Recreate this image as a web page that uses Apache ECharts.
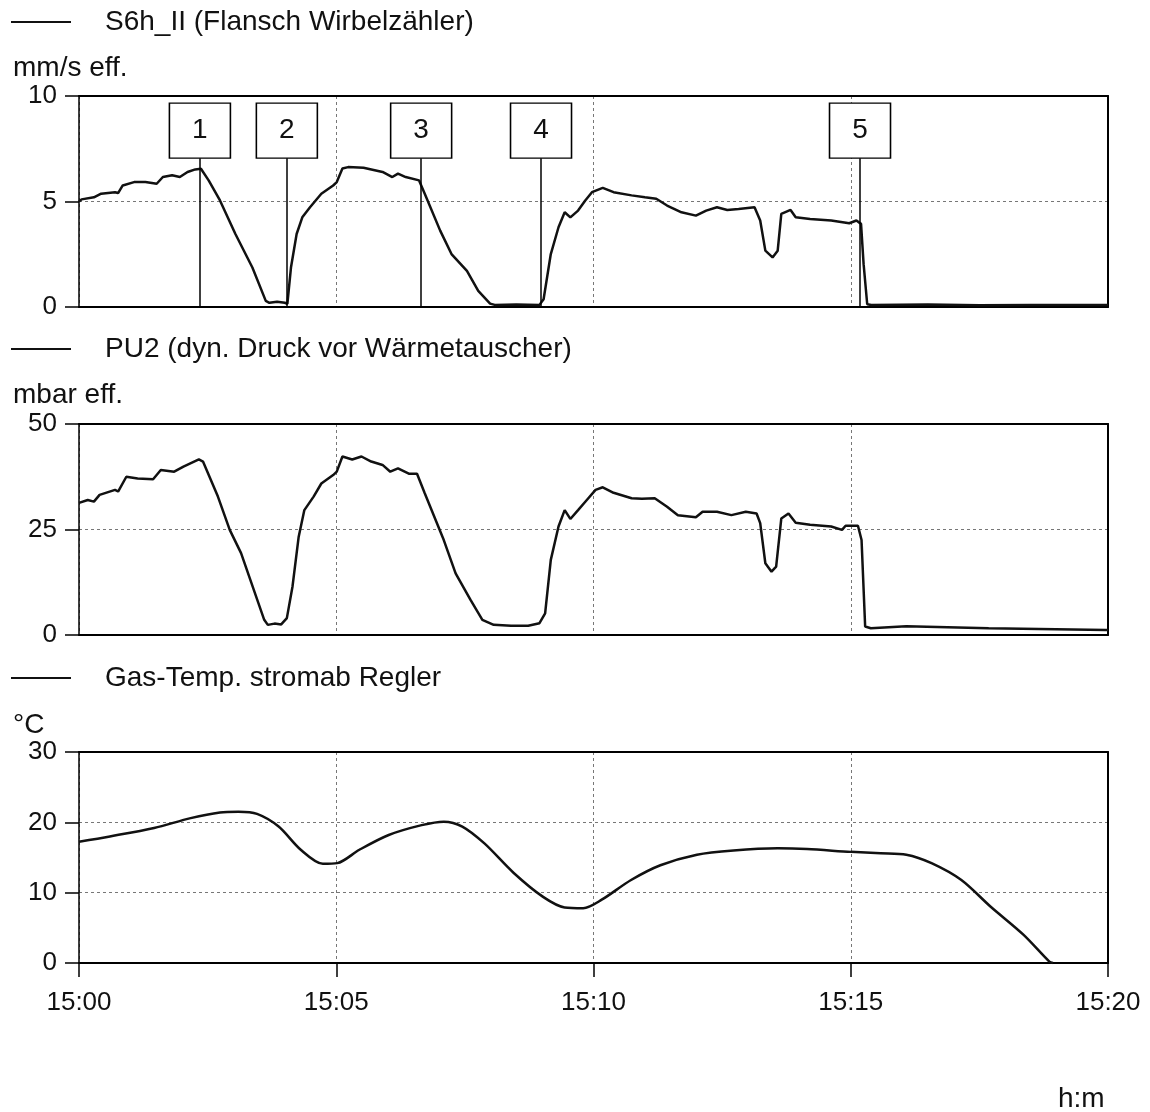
<!DOCTYPE html>
<html>
<head>
<meta charset="utf-8">
<script src="https://cdn.jsdelivr.net/npm/echarts@6/dist/echarts.min.js"></script>
<style>
html,body{margin:0;padding:0;background:#fff;}
#chart{width:1150px;height:1112px;}
</style>
</head>
<body>
<div id="chart"></div>
<script>
// ---- data (time in minutes after 15:00) ----
var seriesNames = ['S6h_II (Flansch Wirbelzähler)', 'PU2 (dyn. Druck vor Wärmetauscher)', 'Gas-Temp. stromab Regler'];
var unitLabels = ['mm/s eff.', 'mbar eff.', '°C'];
var xUnit = 'h:m';

var s6Points = [
  [0,5.0],[0.05,5.1],[0.29,5.2],[0.43,5.37],[0.70,5.44],[0.76,5.4],[0.85,5.76],[1.07,5.92],[1.29,5.92],[1.51,5.84],
  [1.63,6.16],[1.81,6.24],[1.96,6.16],[2.11,6.40],[2.26,6.52],[2.37,6.55],[2.52,6.0],[2.74,5.05],[3.04,3.46],[3.37,1.87],
  [3.63,0.29],[3.70,0.2],[3.85,0.25],[4.00,0.2],[4.05,0.15],[4.12,1.87],[4.23,3.46],[4.34,4.25],[4.49,4.73],[4.71,5.37],
  [4.94,5.76],[5.01,5.92],[5.12,6.56],[5.23,6.63],[5.53,6.6],[5.90,6.40],[6.09,6.16],[6.20,6.32],[6.35,6.16],[6.61,6.0],
  [6.72,5.37],[7.02,3.62],[7.24,2.51],[7.54,1.71],[7.76,0.76],[7.99,0.16],[8.08,0.1],[8.50,0.12],[8.95,0.1],[9.03,0.37],
  [9.17,2.51],[9.32,3.78],[9.44,4.49],[9.55,4.25],[9.70,4.57],[9.84,5.05],[9.97,5.44],[10.18,5.65],[10.39,5.44],[10.74,5.29],
  [11.0,5.2],[11.22,5.13],[11.43,4.81],[11.71,4.49],[11.99,4.33],[12.19,4.57],[12.40,4.73],[12.60,4.6],[12.82,4.65],[13.13,4.73],
  [13.24,4.1],[13.34,2.67],[13.48,2.35],[13.58,2.67],[13.65,4.41],[13.83,4.6],[13.93,4.25],[14.21,4.17],[14.62,4.1],[14.97,3.97],
  [15.11,4.1],[15.20,3.94],[15.25,2.03],[15.32,0.13],[15.40,0.1],[16.5,0.12],[17.5,0.08],[18.5,0.1],[20,0.1]
];

var pu2Points = [
  [0,31.3],[0.17,32.0],[0.29,31.6],[0.40,33.2],[0.70,34.4],[0.76,34.0],[0.92,37.5],[1.14,37.1],[1.44,36.9],[1.59,39.1],
  [1.85,38.7],[2.03,39.9],[2.33,41.6],[2.41,41.1],[2.70,32.8],[2.93,24.9],[3.15,19.4],[3.60,3.6],[3.67,2.4],[3.80,2.7],
  [3.93,2.5],[4.04,4.0],[4.15,11.5],[4.27,23.3],[4.38,29.6],[4.56,32.8],[4.71,35.9],[4.94,37.9],[5.01,38.7],[5.12,42.3],
  [5.31,41.6],[5.49,42.3],[5.68,41.1],[5.90,40.3],[6.05,38.7],[6.20,39.5],[6.42,38.2],[6.57,38.2],[6.72,33.6],[7.09,22.5],
  [7.32,14.6],[7.61,8.3],[7.84,3.6],[8.06,2.4],[8.40,2.2],[8.73,2.2],[8.95,2.8],[9.06,5.1],[9.17,17.8],[9.32,25.7],
  [9.44,29.6],[9.55,27.5],[9.70,29.6],[9.87,32.0],[10.04,34.4],[10.18,35.0],[10.39,33.7],[10.74,32.4],[10.94,32.3],[11.19,32.4],
  [11.43,30.4],[11.64,28.4],[11.99,27.9],[12.12,29.2],[12.40,29.2],[12.68,28.4],[12.96,29.2],[13.17,28.8],[13.24,26.5],[13.34,17.0],
  [13.46,15.0],[13.55,16.2],[13.65,27.6],[13.79,28.8],[13.93,26.6],[14.21,26.1],[14.62,25.7],[14.83,24.9],[14.90,25.9],[15.14,25.9],
  [15.21,22.5],[15.28,2.0],[15.39,1.6],[16.08,2.1],[17.68,1.6],[19.96,1.2],[20,1.2]
];

var tempPoints = [
  [0,17.25],[0.60,18.0],[1.46,19.2],[2.17,20.6],[2.74,21.4],[3.10,21.5],[3.46,21.2],[3.88,19.4],[4.31,16.1],[4.74,14.1],
  [5.02,14.2],[5.45,16.1],[6.02,18.2],[6.66,19.6],[7.09,20.1],[7.45,19.4],[7.88,17.0],[8.45,12.8],[9.02,9.4],[9.44,7.9],
  [9.80,7.8],[10.16,9.0],[10.73,11.8],[11.30,13.9],[12.01,15.4],[12.72,16.0],[13.58,16.3],[14.15,16.2],[15.0,15.8],[15.58,15.6],
  [16.08,15.4],[16.57,14.2],[17.15,11.8],[17.72,8.0],[18.36,4.0],[18.86,0.2],[18.93,0]
];

var markerTimes = [2.35, 4.04, 6.65, 8.98, 15.18];
var markerLabels = ['1', '2', '3', '4', '5'];

var yMax = [10, 50, 30];
var yInterval = [5, 25, 10];

// ---- layout / styles ----
var FONT = 'Liberation Sans, Arial, sans-serif';
var FS = 26;
var FS_T = 28;
var BOX_CENTER = 8.36, BOX_BOTTOM = 7.05;
var gridTops = [96, 424, 752];
var legendCenters = [22, 349, 678];
var unitCenters = [68, 395, 725];

function pad(n){ return n < 10 ? '0' + n : '' + n; }

var grids = [], xAxes = [], yAxes = [], series = [], legends = [], titles = [];
for (var i = 0; i < 3; i++) {
  grids.push({left: 79, right: 42, top: gridTops[i], height: 211, show: false});
  var isLast = i === 2;
  xAxes.push({type: 'value', gridIndex: i, min: 0, max: 20, interval: 5,
    axisLine: {show: true, onZero: false, lineStyle: {color: '#000', width: 2}},
    axisTick: {show: isLast, inside: false, length: 14, lineStyle: {color: '#000', width: 1.5}},
    axisLabel: {show: isLast, margin: 27, fontSize: FS, fontFamily: FONT, color: '#111',
      formatter: function(v){ return '15:' + pad(v); }},
    splitLine: {show: true, lineStyle: {color: '#777', width: 1, type: [3, 3]}}
  });
  yAxes.push({type: 'value', gridIndex: i, min: 0, max: yMax[i], interval: yInterval[i],
    axisLine: {show: true, lineStyle: {color: '#000', width: 1.5}},
    axisTick: {show: true, inside: false, length: 14, lineStyle: {color: '#000', width: 1.5}},
    axisLabel: {show: true, margin: 22, fontSize: FS, fontFamily: FONT, color: '#111'},
    splitLine: {show: true, lineStyle: {color: '#777', width: 1, type: [3, 3]}}
  });
  // frame: top and right edges
  xAxes.push({type: 'value', gridIndex: i, position: 'top', min: 0, max: 20, interval: 5,
    axisLine: {show: true, onZero: false, lineStyle: {color: '#000', width: 2}},
    axisTick: {show: false}, axisLabel: {show: false}, splitLine: {show: false}});
  yAxes.push({type: 'value', gridIndex: i, position: 'right', min: 0, max: yMax[i], interval: yInterval[i],
    axisLine: {show: true, onZero: false, lineStyle: {color: '#000', width: 2}},
    axisTick: {show: false}, axisLabel: {show: false}, splitLine: {show: false}});

  legends.push({data: [{name: seriesNames[i], icon: 'rect'}], left: 11, top: legendCenters[i] - 14,
    itemWidth: 60, itemHeight: 2, padding: 0, selectedMode: false,
    textStyle: {fontSize: FS_T, fontFamily: FONT, color: '#111', padding: [0, 0, 0, 29]}});
  titles.push({text: unitLabels[i], left: 13, top: unitCenters[i] - 15, padding: 0,
    textStyle: {fontSize: FS_T, fontFamily: FONT, color: '#111', fontWeight: 'normal', lineHeight: 30}});
}
titles.push({text: xUnit, left: 1058, top: 1084, padding: 0,
  textStyle: {fontSize: FS_T, fontFamily: FONT, color: '#111', fontWeight: 'normal', lineHeight: 30}});

var lineData = [s6Points, pu2Points, tempPoints];
for (var j = 0; j < 3; j++) {
  series.push({name: seriesNames[j], type: 'line', xAxisIndex: 2 * j, yAxisIndex: 2 * j,
    data: lineData[j], symbol: 'none', smooth: j === 2 ? 0.3 : false,
    lineStyle: {color: '#111', width: 2.5}, itemStyle: {color: '#111'}, z: 3});
}

series.push({name: 'markers', type: 'scatter', xAxisIndex: 0, yAxisIndex: 0,
  data: markerTimes.map(function(t, k){ return {value: [t, BOX_CENTER], name: markerLabels[k]}; }),
  symbol: 'rect', symbolSize: [61, 55],
  itemStyle: {color: '#fff', borderColor: '#000', borderWidth: 1.5, opacity: 1},
  label: {show: true, position: 'inside', formatter: '{b}', fontSize: 28, fontFamily: FONT, color: '#111'},
  z: 5, silent: true,
  markLine: {silent: true, symbol: ['none', 'none'], label: {show: false},
    lineStyle: {color: '#000', width: 1.5, type: 'solid'},
    data: markerTimes.map(function(t){ return [{coord: [t, 0]}, {coord: [t, BOX_BOTTOM]}]; })}
});

var chart = echarts.init(document.getElementById('chart'), null, {renderer: 'canvas'});
chart.setOption({
  backgroundColor: '#fff',
  animation: false,
  title: titles,
  legend: legends,
  grid: grids,
  xAxis: xAxes,
  yAxis: yAxes,
  series: series
});
</script>
</body>
</html>
